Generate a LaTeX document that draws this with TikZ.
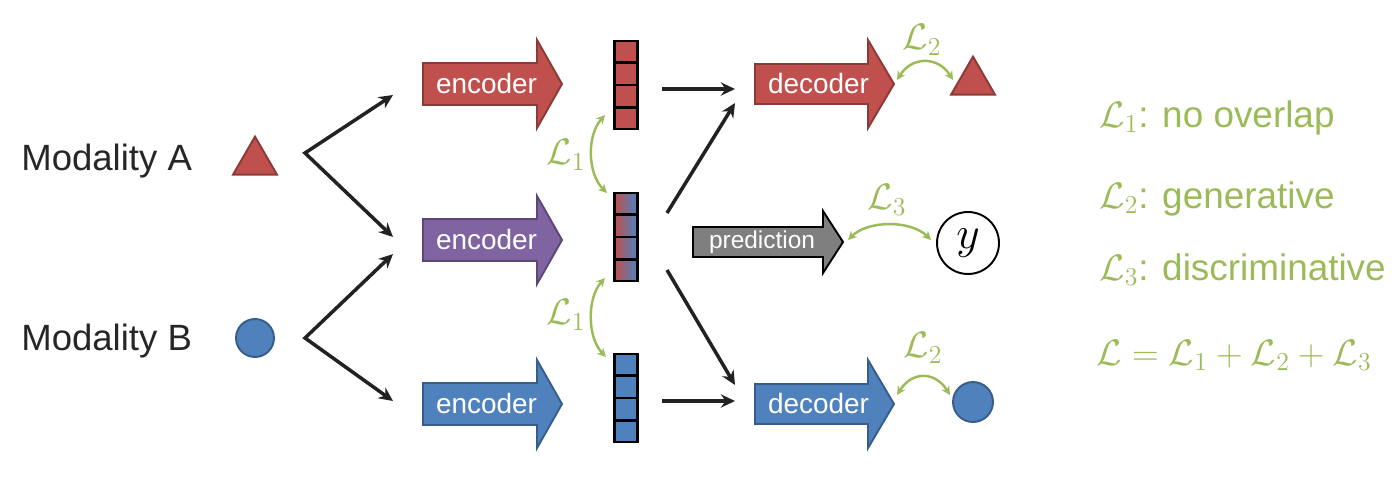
\RequirePackage{fix-cm}
\documentclass[tikz,border=0pt]{standalone}
\usepackage{fontspec}
\setmainfont{Liberation Sans}
\usetikzlibrary{arrows.meta,calc,shapes.geometric}
\definecolor{redc}{HTML}{C0504D}
\definecolor{redd}{HTML}{8C3A38}
\definecolor{bluec}{HTML}{4F81BD}
\definecolor{blued}{HTML}{385D8A}
\definecolor{purc}{HTML}{8064A2}
\definecolor{purd}{HTML}{5C4776}
\definecolor{grayc}{HTML}{7F7F7F}
\definecolor{greenc}{HTML}{9BBB59}
\definecolor{blk}{HTML}{222222}
\newcommand{\fatarrow}[9]{%
  \path[#7] (#1,{#2-#5}) -- (#3,{#2-#5}) -- (#3,{#2-#6}) -- (#4,#2) -- (#3,{#2+#6}) -- (#3,{#2+#5}) -- (#1,{#2+#5}) -- cycle;
  \node[arrtext] (#8) at ({(#1+#4)/2-6},#2) {#9};}
\newcommand{\cells}[1]{%
  \foreach \f in {0.25,0.5,0.75}
    \draw[line width=1.2pt] ($(#1.north west)!\f!(#1.south west)$) -- ($(#1.north east)!\f!(#1.south east)$);}
\newcommand{\Lc}{\mathcal{L}}
\begin{document}
\begin{tikzpicture}[x=0.02cm,y=-0.02cm,
  arrtext/.style={text=white, inner sep=0pt, font=\fontsize{15.9}{18}\selectfont},
  redarr/.style={fill=redc, draw=redd, line width=1.1pt, line join=miter},
  bluearr/.style={fill=bluec, draw=blued, line width=1.1pt, line join=miter},
  purarr/.style={fill=purc, draw=purd, line width=1.1pt, line join=miter},
  grayarr/.style={fill=grayc, draw=black, line width=1.1pt, line join=miter},
  vecbox/.style={draw=black, line width=1.2pt, minimum width=0.46cm, minimum height=1.76cm, inner sep=0pt},
  blkarr/.style={draw=blk, line width=2pt, -{Stealth[length=8pt,width=7.5pt]}},
  garc/.style={draw=greenc, line width=1.4pt, {Stealth[length=5pt,width=5pt]}-{Stealth[length=5pt,width=5pt]}},
  glabel/.style={text=greenc, inner sep=0pt, font=\fontsize{21}{25}\selectfont},
  modtext/.style={text=black!85, inner sep=0pt, font=\fontsize{20.8}{25}\selectfont},
  legtext/.style={text=greenc, inner sep=0pt, font=\fontsize{21}{25}\selectfont}]
\useasboundingbox (0,0) rectangle (1395,487);

% inputs
\node[modtext, anchor=base west] (modA) at (21,170) {Modality A};
\node[modtext, anchor=base west] (modB) at (21,350) {Modality B};
\node[regular polygon, regular polygon sides=3, minimum size=1.016cm, inner sep=0pt, fill=redc, draw=redd, line width=1.1pt] (triA) at (255,162) {};
\node[circle, minimum size=0.76cm, inner sep=0pt, fill=bluec, draw=blued, line width=1.1pt] (cirB) at (255,338) {};

% split arrows
\coordinate (aV) at (305,153);
\coordinate (aT1) at (393,95);
\coordinate (aT2) at (393,237);
\coordinate (bV) at (305,338);
\coordinate (bT1) at (393,254);
\coordinate (bT2) at (393,401);
\draw[draw=blk, line width=2pt, line join=miter, {Stealth[length=8pt,width=7.5pt]}-{Stealth[length=8pt,width=7.5pt]}] (aT1) -- (aV) -- (aT2);
\draw[draw=blk, line width=2pt, line join=miter, {Stealth[length=8pt,width=7.5pt]}-{Stealth[length=8pt,width=7.5pt]}] (bT1) -- (bV) -- (bT2);

% encoders
\fatarrow{423}{84}{537}{562}{21}{44}{redarr}{encA}{encoder}
\fatarrow{423}{240}{537}{562}{21}{44}{purarr}{encM}{encoder}
\fatarrow{423}{404}{537}{562}{21}{44}{bluearr}{encB}{encoder}

% latent vectors
\node[vecbox, fill=redc] (vA) at (626,85) {};
\cells{vA}
\foreach \i in {0,...,11}{
  \pgfmathsetmacro{\pc}{100-\i*100/11}
  \fill[color=redc!\pc!bluec] ({614.5+\i*23/12},193) rectangle ({614.5+(\i+1)*23/12+0.3},281);
}
\node[vecbox] (vM) at (626,237) {};
\cells{vM}
\node[vecbox, fill=bluec] (vB) at (626,398) {};
\cells{vB}

% L1 arcs
\coordinate (l1a) at (605,115);
\coordinate (l1b) at (607,193);
\coordinate (l1c) at (605,278);
\coordinate (l1d) at (606,357);
\draw[garc] (l1a) .. controls (587,135) and (587,173) .. (l1b);
\draw[garc] (l1c) .. controls (587,298) and (587,337) .. (l1d);
\node[glabel] (L1a) at (566,155) {$\Lc_1$};
\node[glabel] (L1b) at (566,315) {$\Lc_1$};

% decoders and prediction
\fatarrow{755}{84}{868}{894}{20}{44}{redarr}{decA}{decoder}
\fatarrow{755}{404}{868}{894}{20}{44}{bluearr}{decB}{decoder}
\fatarrow{693}{242}{823}{843}{15}{31}{grayarr}{pred}{\fontsize{13.9}{16}\selectfont prediction}

% black connectors
\coordinate (c1s) at (662,89);  \coordinate (c1e) at (735,89);
\coordinate (c2s) at (667,213); \coordinate (c2e) at (735,103);
\coordinate (c3s) at (667,270); \coordinate (c3e) at (735,385);
\coordinate (c4s) at (662,401); \coordinate (c4e) at (735,401);
\draw[blkarr] (c1s) -- (c1e);
\draw[blkarr] (c2s) -- (c2e);
\draw[blkarr] (c3s) -- (c3e);
\draw[blkarr] (c4s) -- (c4e);

% outputs
\node[regular polygon, regular polygon sides=3, minimum size=1.016cm, inner sep=0pt, fill=redc, draw=redd, line width=1.1pt] (triOut) at (973,82) {};
\node[circle, minimum size=0.8cm, inner sep=0pt, fill=bluec, draw=blued, line width=1.1pt] (cirOut) at (973,402) {};
\node[circle, minimum size=1.24cm, inner sep=0pt, draw=black, line width=1.1pt] (yout) at (968,243) {\fontsize{26}{30}\selectfont $y$};

% L2 / L3 arcs
\coordinate (l2a) at (897,80);  \coordinate (l2b) at (953,80);
\coordinate (l3a) at (848,240); \coordinate (l3b) at (931,240);
\coordinate (l2c) at (897,395); \coordinate (l2d) at (950,395);
\draw[garc] (l2a) .. controls (912,56) and (938,56) .. (l2b);
\draw[garc] (l3a) .. controls (868,220) and (911,220) .. (l3b);
\draw[garc] (l2c) .. controls (912,371) and (935,371) .. (l2d);
\node[glabel] (L2a) at (922,40) {$\Lc_2$};
\node[glabel] (L3) at (887,200) {$\Lc_3$};
\node[glabel] (L2b) at (923,348) {$\Lc_2$};

% legend
\node[legtext, anchor=base west] (leg1) at (1099,127) {$\Lc_1$: no overlap};
\node[legtext, anchor=base west] (leg2) at (1099,208) {$\Lc_2$: generative};
\node[legtext, anchor=base west] (leg3) at (1099,280) {$\Lc_3$: discriminative};
\node[legtext, anchor=base west] (leg4) at (1096,365) {$\Lc = \Lc_1 + \Lc_2 + \Lc_3$};
\end{tikzpicture}
\end{document}
